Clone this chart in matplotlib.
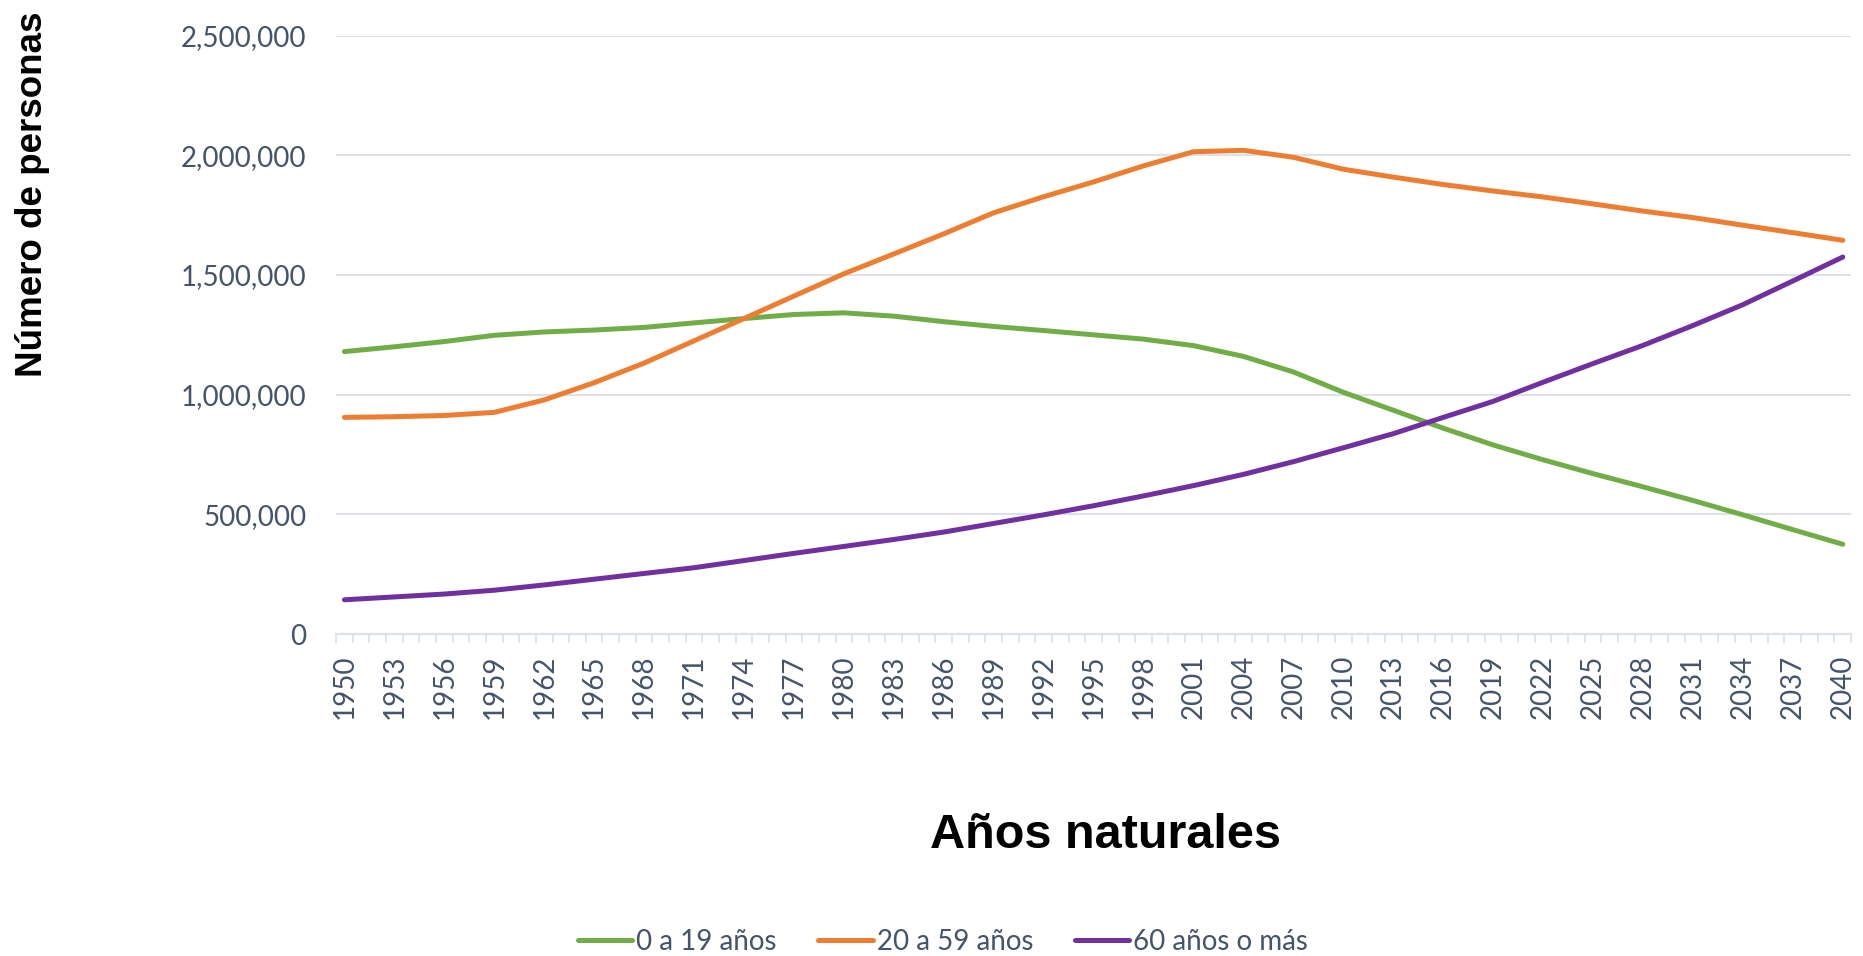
import matplotlib
matplotlib.use("Agg")
import matplotlib.pyplot as plt
from matplotlib.ticker import FuncFormatter

# Years shown on the axis (one value every 3 years, 1950-2040)
years = list(range(1950, 2041, 3))

edad_0_19 = [
    1180000, 1200000, 1222000, 1248000, 1262000, 1270000, 1281000, 1300000,
    1318000, 1335000, 1342000, 1328000, 1305000, 1285000, 1268000, 1250000,
    1232000, 1205000, 1160000, 1095000, 1010000, 935000, 860000, 790000,
    728000, 670000, 615000, 558000, 498000, 436000, 375000,
]
edad_20_59 = [
    905000, 908000, 913000, 926000, 978000, 1050000, 1132000, 1225000,
    1318000, 1412000, 1505000, 1588000, 1672000, 1760000, 1827000, 1889000,
    1956000, 2015000, 2021000, 1992000, 1942000, 1909000, 1878000, 1851000,
    1826000, 1797000, 1767000, 1740000, 1708000, 1677000, 1645000,
]
edad_60_mas = [
    143000, 155000, 167000, 183000, 205000, 229000, 253000, 277000,
    307000, 337000, 366000, 395000, 426000, 462000, 498000, 536000,
    577000, 620000, 667000, 720000, 778000, 837000, 905000, 972000,
    1052000, 1130000, 1206000, 1289000, 1376000, 1475000, 1575000,
]

series = [
    ("0 a 19 años", edad_0_19, "#70AD47"),
    ("20 a 59 años", edad_20_59, "#ED7D31"),
    ("60 años o más", edad_60_mas, "#7030A0"),
]

TEXT_COLOR = "#44546A"
GRID_COLOR = "#DDE2E8"

fig = plt.figure(figsize=(18.63, 9.56), dpi=100)
ax = fig.add_axes((0.1804, 0.3368, 0.8132, 0.6259))

for name, values, color in series:
    ax.plot(years, values, color=color, lw=3.6, label=name,
            solid_capstyle="round", solid_joinstyle="round")

ax.set_xlim(1949.5, 2040.5)
ax.set_ylim(0, 2500000)
ax.set_yticks(range(0, 2500001, 500000))
ax.yaxis.set_major_formatter(FuncFormatter(lambda v, p: f"{int(v):,}"))
ax.grid(axis="y", color=GRID_COLOR, lw=1.5)
ax.set_axisbelow(True)

ax.set_xticks(years)
ax.set_xticks([y - 0.5 for y in range(1950, 2042)], minor=True)
ax.tick_params(axis="x", which="major", length=0, pad=15, rotation=90,
               labelsize=20, labelcolor=TEXT_COLOR)
ax.tick_params(axis="x", which="minor", length=6.5, width=1.2,
               color=GRID_COLOR)
ax.tick_params(axis="y", length=0, pad=21.5, labelsize=20,
               labelcolor=TEXT_COLOR)
for lab in ax.get_xticklabels() + ax.get_yticklabels():
    lab.set_family("Lato")

for side in ["top", "right", "left"]:
    ax.spines[side].set_visible(False)
ax.spines["bottom"].set_color(GRID_COLOR)
ax.spines["bottom"].set_linewidth(1.5)

fig.text(0.0174, 1 - 194 / 956, "Número de personas", rotation=90,
         ha="center", va="center", fontsize=26.5, fontweight="bold",
         family="Liberation Sans", color="black")
fig.text(1105 / 1863, 1 - 848 / 956, "Años naturales", ha="center",
         va="baseline", fontsize=35, fontweight="bold",
         family="Liberation Sans", color="black")

leg = fig.legend(loc="center", bbox_to_anchor=(943 / 1863, 1 - 942 / 956),
                 ncol=3, frameon=False, handlelength=1.95,
                 handletextpad=0.15, columnspacing=1.5,
                 prop={"family": "Lato", "size": 20})
for t in leg.get_texts():
    t.set_color(TEXT_COLOR)

fig.savefig("out.png", dpi=100)
